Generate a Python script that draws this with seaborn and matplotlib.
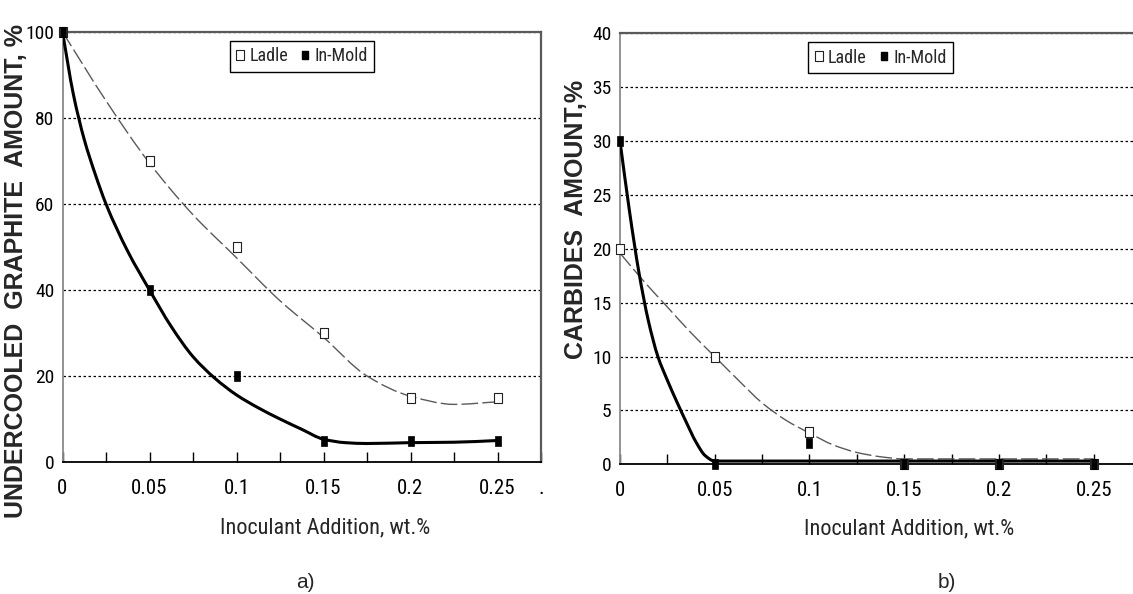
import matplotlib
matplotlib.use("Agg")
import matplotlib.pyplot as plt
from matplotlib import font_manager as fm
from matplotlib.lines import Line2D
from matplotlib.path import Path
from matplotlib.patches import PathPatch
from matplotlib.ticker import FixedLocator, FixedFormatter
import seaborn as sns
import numpy as np

# ---------------- data ----------------
x_pts = [0.0, 0.05, 0.10, 0.15, 0.20, 0.25]

ugr_ladle = [100, 70, 50, 30, 15, 15]
ugr_inmold = [100, 40, 20, 5, 5, 5]

carb_ladle = [20, 10, 3, 0, 0, 0]
carb_inmold = [30, 0, 2, 0, 0, 0]

# smoothed trend lines
ugr_ladle_fit_x = [0, 0.025, 0.05, 0.075, 0.1, 0.125, 0.15, 0.175, 0.2, 0.225, 0.25]
ugr_ladle_fit_y = [100, 84, 69.5, 57.5, 47.5, 37.5, 29, 20, 15.3, 13.4, 14]

ugr_inmold_fit_x = [0, 0.00625, 0.0125, 0.01875, 0.025, 0.0375, 0.05, 0.0625, 0.075, 0.0875, 0.1,
                    0.1125, 0.125, 0.1375, 0.15, 0.1625, 0.175, 0.2, 0.225, 0.25]
ugr_inmold_fit_y = [100, 85.5, 75, 67, 60, 49, 40, 31.5, 24.5, 19.5, 15.6,
                    12.6, 10, 7.6, 5.3, 4.5, 4.3, 4.5, 4.6, 5]

carb_ladle_fit_x = [0, 0.0125, 0.025, 0.0375, 0.05, 0.0625, 0.075, 0.0875, 0.1, 0.1125,
                    0.125, 0.1375, 0.15, 0.2, 0.25]
carb_ladle_fit_y = [19.6, 17.0, 14.6, 12.2, 10.0, 7.8, 5.7, 4.1, 2.9, 1.8,
                    1.1, 0.7, 0.5, 0.5, 0.5]

carb_inmold_fit_x = [0, 0.005, 0.01, 0.015, 0.02, 0.025, 0.03, 0.035, 0.04, 0.045,
                     0.05, 0.1, 0.15, 0.2, 0.25]
carb_inmold_fit_y = [30, 23.5, 17.8, 13.3, 10.0, 7.8, 5.8, 3.9, 2.1, 0.8,
                     0.3, 0.3, 0.3, 0.3, 0.3]

x_tick_pos = [0, 0.025, 0.05, 0.075, 0.1, 0.125, 0.15, 0.175, 0.2, 0.225, 0.25, 0.275]
x_tick_lbl_a = ["0", "", "0.05", "", "0.1", "", "0.15", "", "0.2", "", "0.25", "."]
x_tick_lbl_b = ["0", "", "0.05", "", "0.1", "", "0.15", "", "0.2", "", "0.25", ""]

ugr_yticks = [0, 20, 40, 60, 80, 100]
carb_yticks = [0, 5, 10, 15, 20, 25, 30, 35, 40]

x_title = "Inoculant Addition, wt.%"
ugr_title = "UNDERCOOLED  GRAPHITE  AMOUNT, %"
carb_title = "CARBIDES  AMOUNT,%"
legend_labels = ["Ladle", "In-Mold"]

# ---------------- style ----------------
sns.set_theme(style="white")
plt.rcParams["font.family"] = ["Liberation Sans", "DejaVu Sans"]

_fonts = fm.fontManager.ttflist


def _find(name, stretches):
    for f in _fonts:
        if f.name == name and str(f.stretch) in stretches:
            return True
    return False


narrow = None
size_scale = 1.0
for fam, st in [("Liberation Sans Narrow", ("normal", "400", "condensed", "semi-condensed")),
                ("Arial Narrow", ("normal", "400", "condensed", "semi-condensed")),
                ("Roboto Condensed", ("normal", "400", "condensed", "semi-condensed")),
                ("DejaVu Sans", ("condensed", "semi-condensed")),
                ("Noto Sans", ("condensed", "semi-condensed", "extra-condensed")),
                ("Open Sans", ("condensed", "semi-condensed"))]:
    if _find(fam, st):
        if fam in ("DejaVu Sans", "Noto Sans", "Open Sans"):
            narrow = dict(family=fam, stretch="condensed")
            size_scale = 0.9
        else:
            narrow = dict(family=fam)
        break
if narrow is None:
    narrow = dict(family="Liberation Sans")
    size_scale = 0.85


def nfont(size):
    return fm.FontProperties(size=size * size_scale, **narrow)


def smooth_path(xs, ys):
    """Piecewise cubic (monotone Hermite) path through the given points."""
    x = np.asarray(xs, float)
    y = np.asarray(ys, float)
    h = np.diff(x)
    d = np.diff(y) / h
    n = len(x)
    m = np.zeros(n)
    m[0], m[-1] = d[0], d[-1]
    for k in range(1, n - 1):
        if d[k - 1] * d[k] <= 0:
            m[k] = 0.0
        else:
            w1 = 2 * h[k] + h[k - 1]
            w2 = h[k] + 2 * h[k - 1]
            m[k] = (w1 + w2) / (w1 / d[k - 1] + w2 / d[k])
    verts = [(x[0], y[0])]
    codes = [Path.MOVETO]
    for k in range(n - 1):
        verts += [(x[k] + h[k] / 3, y[k] + m[k] * h[k] / 3),
                  (x[k + 1] - h[k] / 3, y[k + 1] - m[k + 1] * h[k] / 3),
                  (x[k + 1], y[k + 1])]
        codes += [Path.CURVE4] * 3
    return Path(verts, codes)


W, H = 1133, 594
fig = plt.figure(figsize=(W / 100, H / 100), dpi=100)
fig.patch.set_facecolor("white")

# rectangular marker (slightly taller than wide)
rect = [(-0.68, -1), (0.68, -1), (0.68, 1), (-0.68, 1), (-0.68, -1)]


def px_axes(l, t, r, b):
    return fig.add_axes([l / W, 1 - b / H, (r - l) / W, (b - t) / H])


def draw_panel(ax, ylim, yticks, xlabels, ladle, inmold, lf_x, lf_y, mf_x, mf_y, right_frame):
    ax.set_facecolor("white")
    ax.set_xlim(0, 0.275)
    ax.set_ylim(*ylim)

    # trend lines
    ax.add_patch(PathPatch(smooth_path(lf_x, lf_y), fill=False, edgecolor="#5a5a5a",
                           linewidth=1.0, linestyle=(0, (12, 3)), capstyle="butt", zorder=3))
    ax.add_patch(PathPatch(smooth_path(mf_x, mf_y), fill=False, edgecolor="black",
                           linewidth=2.2, capstyle="butt", joinstyle="round", zorder=4))

    # measured points
    sns.scatterplot(x=x_pts, y=ladle, ax=ax, marker=rect, s=55, color="white",
                    edgecolor="#222222", linewidth=0.8, zorder=5, clip_on=False)
    sns.scatterplot(x=x_pts, y=inmold, ax=ax, marker=rect, s=50, color="black",
                    edgecolor="black", linewidth=0.5, zorder=6, clip_on=False)

    # grid
    ax.yaxis.grid(True, linestyle=(0, (2, 2)), color="black", linewidth=0.9)
    ax.xaxis.grid(False)
    ax.set_axisbelow(True)

    # axes frame
    ax.spines["left"].set_color("#8a8a8a")
    ax.spines["left"].set_linewidth(1.3)
    ax.spines["top"].set_color("#5a5a5a")
    ax.spines["top"].set_linewidth(1.6)
    ax.spines["bottom"].set_color("black")
    ax.spines["bottom"].set_linewidth(1.3)
    ax.spines["right"].set_visible(right_frame)
    ax.spines["right"].set_color("#5a5a5a")
    ax.spines["right"].set_linewidth(1.6)

    ax.xaxis.set_major_locator(FixedLocator(x_tick_pos))
    ax.xaxis.set_major_formatter(FixedFormatter(xlabels))
    ax.yaxis.set_major_locator(FixedLocator(yticks))
    ax.set_yticklabels([str(v) for v in yticks])
    ax.tick_params(axis="x", direction="in", length=7.5, width=1.0, color="black",
                   pad=12, bottom=True, top=False)
    ax.tick_params(axis="y", length=0, pad=6, left=True)
    for lbl in ax.get_xticklabels():
        lbl.set_fontproperties(nfont(15))
        lbl.set_color("black")
    for lbl in ax.get_yticklabels():
        lbl.set_fontproperties(nfont(14))
        lbl.set_color("black")
    ax.set_xlabel("")
    ax.set_ylabel("")

    handles = [
        Line2D([], [], linestyle="none", marker=rect, markersize=7.5,
               markerfacecolor="white", markeredgecolor="#222222", markeredgewidth=0.8),
        Line2D([], [], linestyle="none", marker=rect, markersize=5.5,
               markerfacecolor="black", markeredgecolor="black"),
    ]
    h_ax = ax.get_position().height * H
    leg = ax.legend(handles, legend_labels, loc="upper center",
                    bbox_to_anchor=(0.5, 1 - 9 / h_ax), ncol=2, frameon=True,
                    fancybox=False, shadow=False, borderaxespad=0, borderpad=0.35,
                    handlelength=0.5, handletextpad=0.25, columnspacing=0.7,
                    prop=nfont(13))
    leg.get_frame().set_edgecolor("black")
    leg.get_frame().set_linewidth(1.0)
    leg.get_frame().set_facecolor("white")
    leg.get_frame().set_alpha(1)


ax1 = px_axes(62.5, 32, 541, 462)
draw_panel(ax1, (0, 100), ugr_yticks, x_tick_lbl_a, ugr_ladle, ugr_inmold,
           ugr_ladle_fit_x, ugr_ladle_fit_y, ugr_inmold_fit_x, ugr_inmold_fit_y, True)

ax2 = px_axes(620, 33.3, 1141, 464.3)
draw_panel(ax2, (0, 40), carb_yticks, x_tick_lbl_b, carb_ladle, carb_inmold,
           carb_ladle_fit_x, carb_ladle_fit_y, carb_inmold_fit_x, carb_inmold_fit_y, False)

# axis titles
fig.text(16 / W, 1 - 271 / H, ugr_title, rotation=90, ha="center", va="center",
         fontsize=18, fontweight="bold", family="Liberation Sans")
fig.text(576 / W, 1 - 219 / H, carb_title, rotation=90, ha="center", va="center",
         fontsize=18, fontweight="bold", family="Liberation Sans")
fig.text(325 / W, 1 - 533 / H, x_title, ha="center", va="baseline",
         fontproperties=nfont(16))
fig.text(909 / W, 1 - 534 / H, x_title, ha="center", va="baseline",
         fontproperties=nfont(16))

# panel captions
fig.text(305 / W, 1 - 588 / H, "a)", ha="center", va="baseline", fontsize=15,
         family="Liberation Sans")
fig.text(947 / W, 1 - 588 / H, "b)", ha="center", va="baseline", fontsize=15,
         family="Liberation Sans")

fig.savefig("out.png", dpi=100, facecolor="white")
